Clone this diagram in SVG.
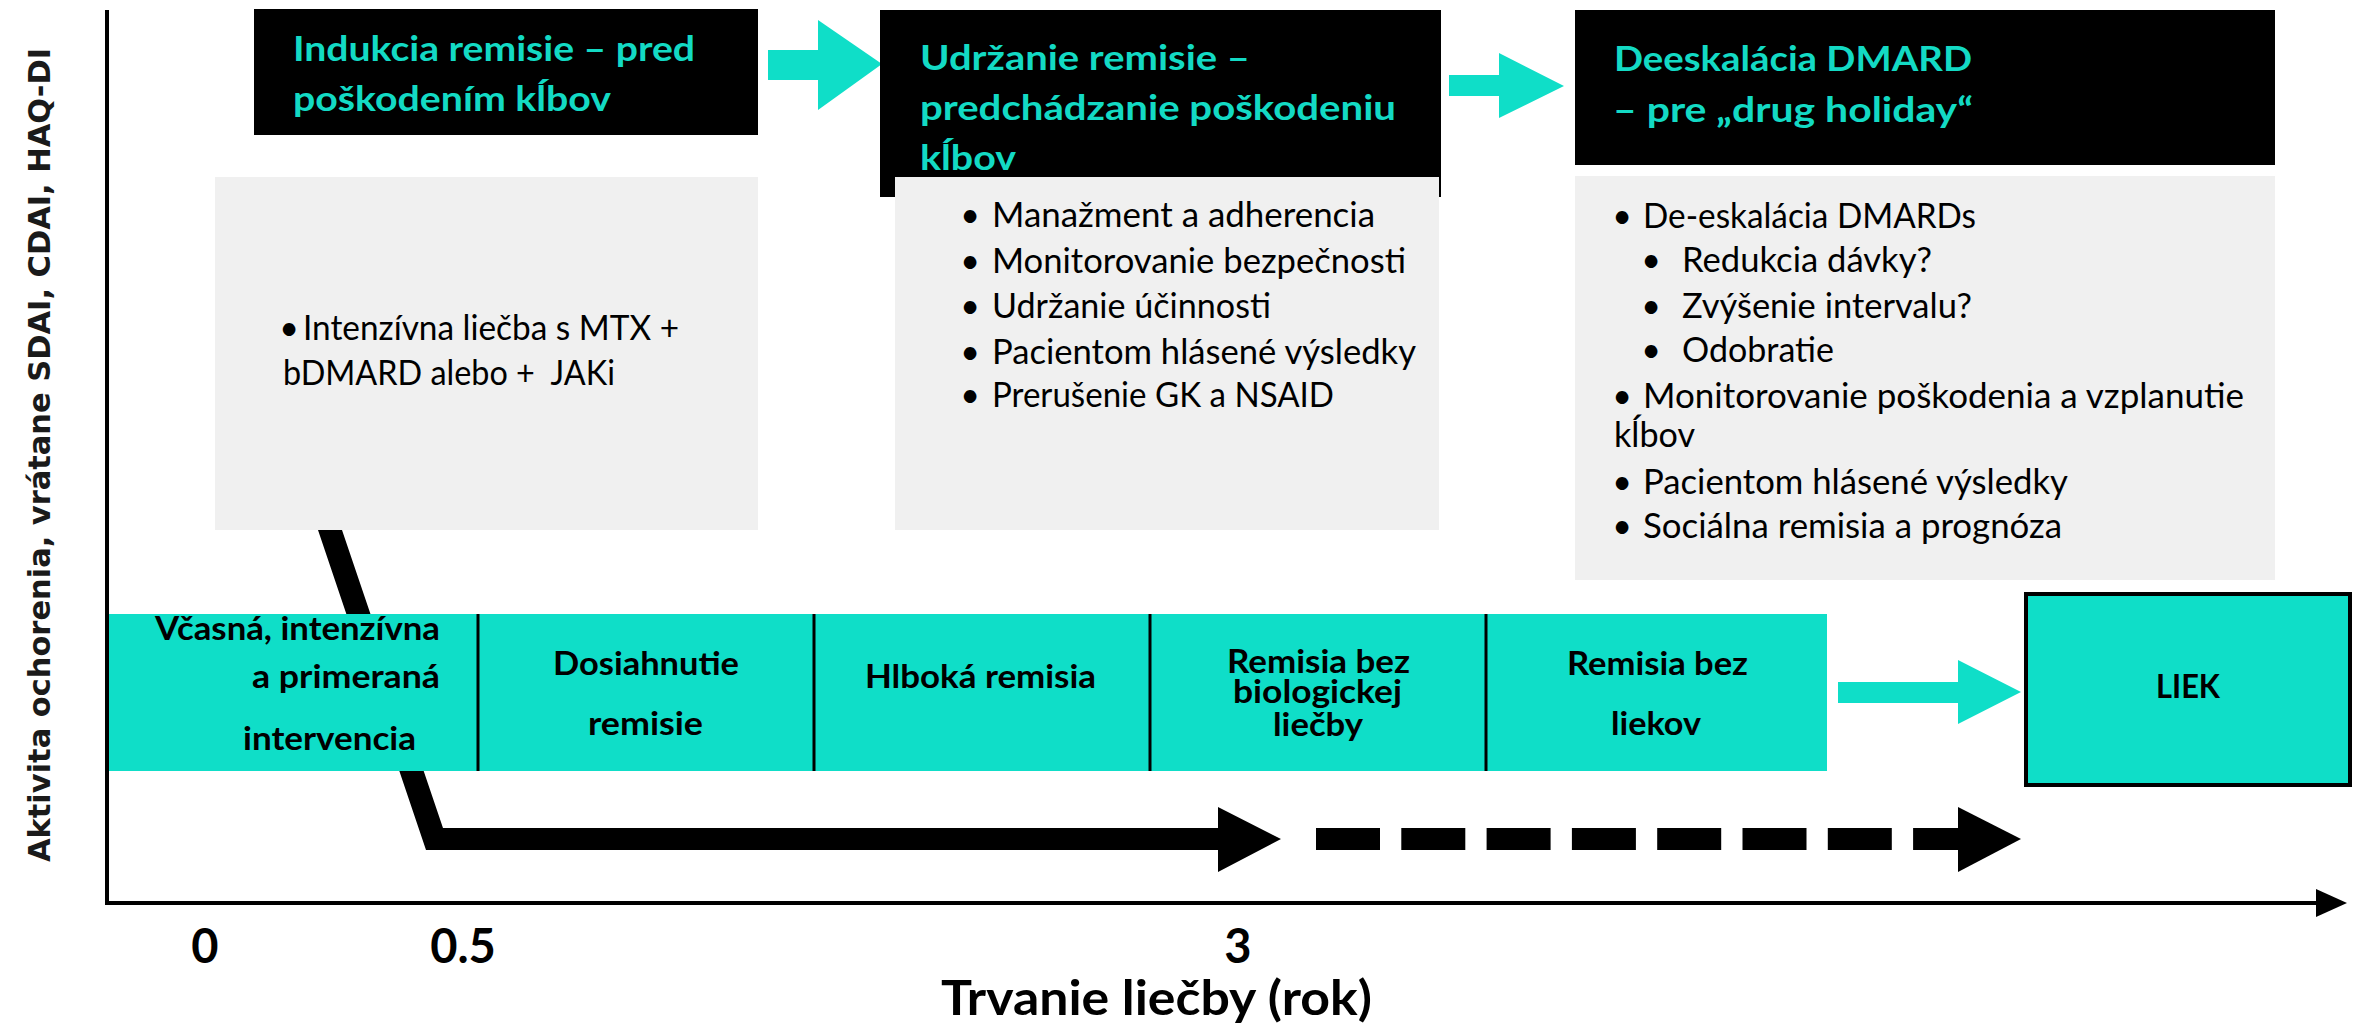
<svg xmlns="http://www.w3.org/2000/svg" width="2359" height="1026" viewBox="0 0 2359 1026">
<style>
.title{font-family:Lato,"Liberation Sans",sans-serif;font-weight:700;font-size:35px;fill:#13DAC4}
.body{font-family:Lato,"Liberation Sans",sans-serif;font-size:34px;fill:#000}
.band{font-family:Lato,"Liberation Sans",sans-serif;font-weight:700;font-size:32px;fill:#000}
.axis{font-family:Lato,"Liberation Sans",sans-serif;font-weight:700;font-size:47px;fill:#000}
.ylab{font-family:"DejaVu Sans",Verdana,sans-serif;font-weight:700;font-size:31px;fill:#1a1a1a}
.black{fill:#000}
.gray{fill:#F0F0F0}
.teal{fill:#0FDEC8}
.div{stroke:#000;stroke-width:3}
</style>
<rect width="2359" height="1026" fill="#fff"/>

<g id="connectors">
  <!-- bent black arrow -->
  <polygon class="black" points="318,530 342,530 443,828 1218,828 1218,807 1281,839 1218,872 1218,850 426,850"/>
  <!-- dashed black arrow -->
  <line x1="1316" y1="839" x2="1962" y2="839" stroke="#000" stroke-width="22" stroke-dasharray="64 21.3"/>
  <polygon class="black" points="1958,807 2021,839 1958,872"/>
  <!-- teal arrows -->
  <polygon class="teal" points="768,50 818,50 818,20 882,64 818,110 818,80 768,80"/>
  <polygon class="teal" points="1449,75 1499,75 1499,53 1564,86 1499,118 1499,96 1449,96"/>
  <polygon class="teal" points="1838,682 1958,682 1958,660 2021,692 1958,724 1958,703 1838,703"/>
</g>

<g id="axes">
  <line x1="107" y1="10" x2="107" y2="905" stroke="#000" stroke-width="4"/>
  <line x1="105" y1="903" x2="2320" y2="903" stroke="#000" stroke-width="4"/>
  <polygon class="black" points="2316,889 2347,903 2316,917"/>
  <text class="ylab" transform="translate(50,455) rotate(-90)" text-anchor="middle" textLength="814" lengthAdjust="spacingAndGlyphs">Aktivita ochorenia, vrátane SDAI, CDAI, HAQ-DI</text>
  <text class="axis" x="205" y="963" text-anchor="middle">0</text>
  <text class="axis" x="463" y="963" text-anchor="middle">0.5</text>
  <text class="axis" x="1238" y="963" text-anchor="middle">3</text>
  <text class="axis" x="941" y="1015" textLength="431" lengthAdjust="spacingAndGlyphs">Trvanie liečby (rok)</text>
</g>

<g id="induction">
  <rect class="black" x="254" y="9" width="504" height="126"/>
  <text class="title" x="293" y="61" textLength="402" lengthAdjust="spacingAndGlyphs">Indukcia remisie – pred</text>
  <text class="title" x="293" y="111" textLength="318" lengthAdjust="spacingAndGlyphs">poškodením kĺbov</text>
</g>
<g id="induction-detail">
  <rect class="gray" x="215" y="177" width="543" height="353"/>
  <text class="body" x="289" y="340" text-anchor="middle">•</text>
  <text class="body" x="303" y="340" textLength="376" lengthAdjust="spacingAndGlyphs">Intenzívna liečba s MTX +</text>
  <text class="body" x="283" y="385" textLength="332" lengthAdjust="spacingAndGlyphs" xml:space="preserve">bDMARD alebo +  JAKi</text>
</g>

<g id="maintenance">
  <rect class="black" x="880" y="10" width="561" height="187"/>
  <text class="title" x="920" y="70" textLength="330" lengthAdjust="spacingAndGlyphs">Udržanie remisie –</text>
  <text class="title" x="920" y="120" textLength="476" lengthAdjust="spacingAndGlyphs">predchádzanie poškodeniu</text>
  <text class="title" x="920" y="170" textLength="96" lengthAdjust="spacingAndGlyphs">kĺbov</text>
</g>
<g id="maintenance-detail">
  <rect class="gray" x="895" y="177" width="544" height="353"/>
  <g class="body" text-anchor="middle">
    <text x="970" y="227">•</text>
    <text x="970" y="273">•</text>
    <text x="970" y="318">•</text>
    <text x="970" y="364">•</text>
    <text x="970" y="407">•</text>
  </g>
  <text class="body" x="992" y="227" textLength="383" lengthAdjust="spacingAndGlyphs">Manažment a adherencia</text>
  <text class="body" x="992" y="273" textLength="414" lengthAdjust="spacingAndGlyphs">Monitorovanie bezpečnosti</text>
  <text class="body" x="992" y="318" textLength="279" lengthAdjust="spacingAndGlyphs">Udržanie účinnosti</text>
  <text class="body" x="992" y="364" textLength="424" lengthAdjust="spacingAndGlyphs">Pacientom hlásené výsledky</text>
  <text class="body" x="992" y="407" textLength="342" lengthAdjust="spacingAndGlyphs">Prerušenie GK a NSAID</text>
</g>

<g id="deescalation">
  <rect class="black" x="1575" y="10" width="700" height="155"/>
  <text class="title" x="1614" y="71" textLength="358" lengthAdjust="spacingAndGlyphs">Deeskalácia DMARD</text>
  <text class="title" x="1613" y="122" textLength="360" lengthAdjust="spacingAndGlyphs">– pre „drug holiday“</text>
</g>
<g id="deescalation-detail">
  <rect class="gray" x="1575" y="176" width="700" height="404"/>
  <g class="body" text-anchor="middle">
    <text x="1622" y="228">•</text>
    <text x="1651" y="272">•</text>
    <text x="1651" y="318">•</text>
    <text x="1651" y="362">•</text>
    <text x="1622" y="408">•</text>
    <text x="1622" y="494">•</text>
    <text x="1622" y="538">•</text>
  </g>
  <text class="body" x="1643" y="228" textLength="333" lengthAdjust="spacingAndGlyphs">De-eskalácia DMARDs</text>
  <text class="body" x="1682" y="272" textLength="250" lengthAdjust="spacingAndGlyphs">Redukcia dávky?</text>
  <text class="body" x="1682" y="318" textLength="290" lengthAdjust="spacingAndGlyphs">Zvýšenie intervalu?</text>
  <text class="body" x="1682" y="362" textLength="152" lengthAdjust="spacingAndGlyphs">Odobratie</text>
  <text class="body" x="1643" y="408" textLength="601" lengthAdjust="spacingAndGlyphs">Monitorovanie poškodenia a vzplanutie</text>
  <text class="body" x="1614" y="447" textLength="81" lengthAdjust="spacingAndGlyphs">kĺbov</text>
  <text class="body" x="1643" y="494" textLength="425" lengthAdjust="spacingAndGlyphs">Pacientom hlásené výsledky</text>
  <text class="body" x="1643" y="538" textLength="419" lengthAdjust="spacingAndGlyphs">Sociálna remisia a prognóza</text>
</g>

<g id="timeline-band">
  <rect class="teal" x="109" y="614" width="1718" height="157"/>
  <line class="div" x1="478" y1="614" x2="478" y2="771"/>
  <line class="div" x1="814" y1="614" x2="814" y2="771"/>
  <line class="div" x1="1150" y1="614" x2="1150" y2="771"/>
  <line class="div" x1="1486" y1="614" x2="1486" y2="771"/>
</g>
<g id="stage-early">
  <text class="band" x="155" y="640" textLength="285" lengthAdjust="spacingAndGlyphs">Včasná, intenzívna</text>
  <text class="band" x="252" y="688" textLength="188" lengthAdjust="spacingAndGlyphs">a primeraná</text>
  <text class="band" x="243" y="750" textLength="173" lengthAdjust="spacingAndGlyphs">intervencia</text>
</g>
<g id="stage-remission">
  <text class="band" x="553" y="675" textLength="186" lengthAdjust="spacingAndGlyphs">Dosiahnutie</text>
  <text class="band" x="588" y="735" textLength="115" lengthAdjust="spacingAndGlyphs">remisie</text>
</g>
<g id="stage-deep">
  <text class="band" x="865" y="688" textLength="231" lengthAdjust="spacingAndGlyphs">Hlboká remisia</text>
</g>
<g id="stage-biofree">
  <text class="band" x="1227" y="673" textLength="183" lengthAdjust="spacingAndGlyphs">Remisia bez</text>
  <text class="band" x="1233" y="703" textLength="169" lengthAdjust="spacingAndGlyphs">biologickej</text>
  <text class="band" x="1273" y="736" textLength="90" lengthAdjust="spacingAndGlyphs">liečby</text>
</g>
<g id="stage-drugfree">
  <text class="band" x="1567" y="675" textLength="181" lengthAdjust="spacingAndGlyphs">Remisia bez</text>
  <text class="band" x="1611" y="735" textLength="90" lengthAdjust="spacingAndGlyphs">liekov</text>
</g>
<g id="cure">
  <rect class="teal" x="2026" y="594" width="324" height="191" stroke="#000" stroke-width="4"/>
  <text class="band" x="2156" y="698" textLength="64" lengthAdjust="spacingAndGlyphs">LIEK</text>
</g>
</svg>
